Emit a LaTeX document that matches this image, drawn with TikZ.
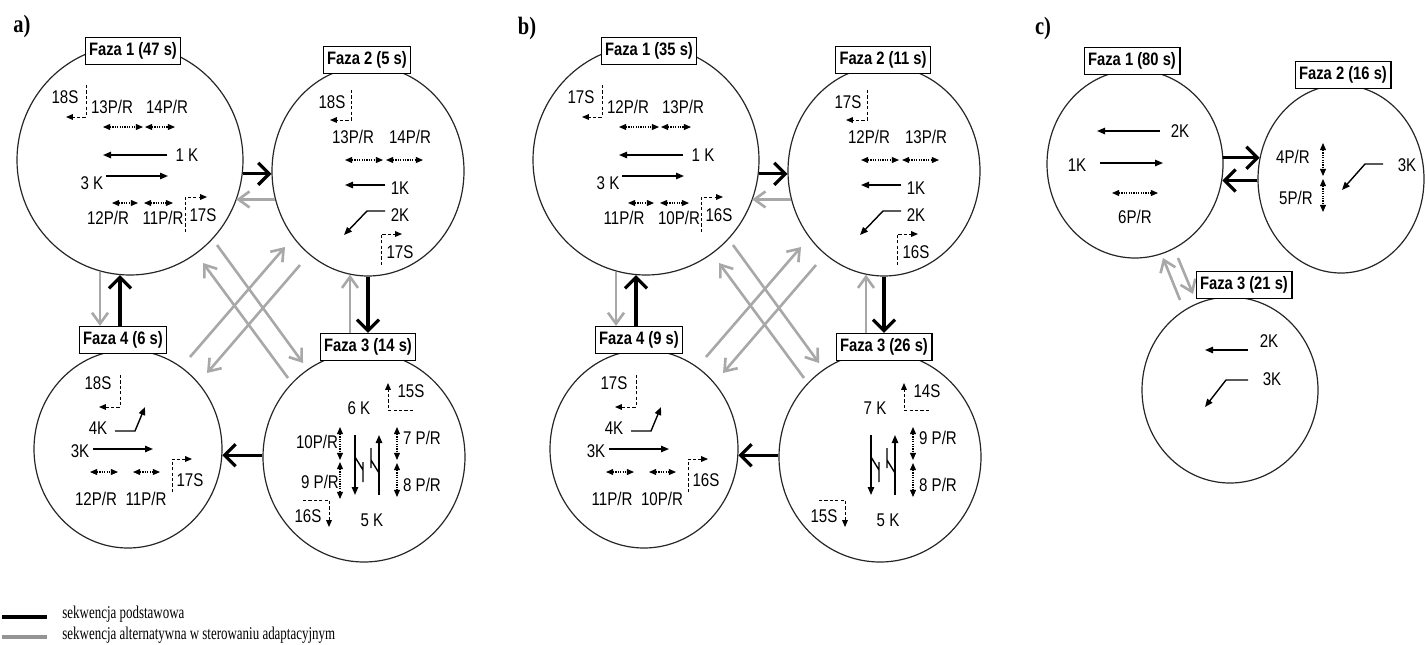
\documentclass[tikz,border=0pt]{standalone}
\usepackage{fontspec}
\setmainfont{Liberation Serif}[FakeStretch=0.82]
\newfontfamily\diagfont{Liberation Sans}[FakeStretch=0.82]
\newfontfamily\legfont{Liberation Serif}[FakeStretch=0.72]
\usetikzlibrary{arrows.meta,shapes.geometric}

\definecolor{altgray}{gray}{0.66}
\definecolor{leggray}{gray}{0.58}

\tikzset{
  phase/.style={draw=black!85, line width=0.6pt, ellipse, inner sep=0pt},
  phasetitle/.style={draw, fill=white, line width=0.6pt, inner xsep=2pt, inner ysep=0pt,
    minimum height=13.5pt, font=\diagfont\fontsize{9}{10}\selectfont\bfseries},
  lbl/.style={inner sep=0pt, font=\diagfont\fontsize{9.2}{10}\selectfont},
  panellbl/.style={inner sep=0pt, font=\fontsize{12.5}{13}\selectfont\bfseries},
  leglbl/.style={anchor=base west, inner sep=0pt, font=\legfont\fontsize{9}{10}\selectfont},
  veh/.style={line width=0.7pt, -{Triangle[length=4pt,width=3.2pt]}},
  ped/.style={line width=0.55pt, dash pattern=on 0.6pt off 0.6pt,
    {Triangle[length=3.6pt,width=3pt]}-{Triangle[length=3.6pt,width=3pt]}},
  sig/.style={line width=0.5pt, dash pattern=on 1.6pt off 1.1pt,
    -{Triangle[length=3.4pt,width=2.8pt]}},
  turn/.style={line width=0.7pt},
  mainseq/.style={line width=1.6pt, -{Straight Barb[length=5.5pt,width=11pt]}},
  altseq/.style={draw=altgray, line width=1.3pt, -{Straight Barb[length=5.5pt,width=8pt]}},
}

% four phases in a cycle: circles, titles and transitions
% #1..#4 titles of phases 1..4
\newcommand\PhaseCycle[4]{%
  \node[phase, minimum width=113pt, minimum height=115pt] (c1) at (130,160) {};
  \node[phase, minimum width=96pt, minimum height=105pt] (c2) at (368,171) {};
  \node[phase, minimum width=101pt, minimum height=105pt] (c3) at (364,457) {};
  \node[phase, minimum width=94pt, minimum height=99pt] (c4) at (128,449) {};
  % alternative transitions across the middle
  \coordinate (d1s) at (190,357); \coordinate (d1e) at (285,247);
  \coordinate (d2s) at (300,265); \coordinate (d2e) at (207,373);
  \coordinate (d3s) at (288,378); \coordinate (d3e) at (203,263);
  \coordinate (d4s) at (217,245); \coordinate (d4e) at (303,363);
  \draw[altseq] (d1s) -- (d1e);
  \draw[altseq] (d2s) -- (d2e);
  \draw[altseq] (d3s) -- (d3e);
  \draw[altseq] (d4s) -- (d4e);
  \node[phasetitle] (t1) at (133,51) {#1};
  \node[phasetitle] (t2) at (367,60) {#2};
  \node[phasetitle] (t3) at (368,347) {#3};
  \node[phasetitle] (t4) at (123,340) {#4};
  % basic sequence 1 -> 2 -> 3 -> 4 -> 1
  \draw[mainseq] (c1.353) -- (c1.353 -| c2.181);
  \draw[mainseq] (c2.south) -- (c2.south |- t3.north);
  \draw[mainseq] (c3.179) -- (c3.179 -| c4.356);
  \draw[mainseq] ([xshift=-1.5pt]t4.north) -- ([xshift=-1.5pt]t4.north |- c1.265);
  % reverse transitions
  \draw[altseq] (c2.197) -- (c2.197 -| c1.339);
  \draw[altseq] ([xshift=-9pt]t3.north) -- ([xshift=-9pt]t3.north |- c2.260);
  \draw[altseq] ([xshift=-11.5pt]t4.north |- c1.255) -- ([xshift=-11.5pt]t4.north);
}

% phase 1 streams: #1 top signal, #2 #3 upper crossings, #4 #5 vehicle streams,
% #6 #7 lower crossings, #8 lower signal
\newcommand\StreamsOne[8]{%
  \node[lbl] (q1) at (65,97) {#1};
  \draw[sig] (86,85) -- (86,117) -- (66,117);
  \node[lbl] (q2) at (112,107) {#2};
  \node[lbl] (q3) at (167,107) {#3};
  \draw[ped] (103,127) -- (143,127);
  \draw[ped] (145,127) -- (175,127);
  \draw[veh] (167,155) -- (103,155);
  \node[lbl] (q4) at (187,155) {#4};
  \node[lbl] (q5) at (92,183) {#5};
  \draw[veh] (106,176) -- (168,176);
  \draw[ped] (112,203) -- (138,203);
  \draw[ped] (144,203) -- (173,203);
  \node[lbl] (q6) at (108,218) {#6};
  \node[lbl] (q7) at (163,218) {#7};
  \draw[sig] (185,232) -- (185,197) -- (207,197);
  \node[lbl] (q8) at (203,215) {#8};
}

% phase 2 streams
\newcommand\StreamsTwo[6]{%
  \node[lbl] (r1) at (332,102) {#1};
  \draw[sig] (351,90) -- (351,120) -- (330,120);
  \node[lbl] (r2) at (353,137) {#2};
  \node[lbl] (r3) at (410,137) {#3};
  \draw[ped] (345,160) -- (383,160);
  \draw[ped] (386,160) -- (423,160);
  \draw[veh] (385,185) -- (345,185);
  \node[lbl] (r4) at (400,188) {#4};
  \draw[veh] (385,211) -- (367,211) -- (344,235);
  \node[lbl] (r5) at (400,215) {#5};
  \draw[sig] (381,265) -- (381,234) -- (402,234);
  \node[lbl] (r6) at (400,252) {#6};
}

% phase 3 streams
\newcommand\StreamsThree[6]{%
  \draw[sig] (413,410) -- (388,410) -- (388,383);
  \node[lbl] (w1) at (411,391) {#1};
  \node[lbl] (w2) at (359,408) {#2};
  \draw[veh] (355,435) -- (355,495);
  \draw[turn] (355,457) -- (363,470) (363,462) -- (363,482);
  \draw[veh] (379,495) -- (379,435);
  \draw[turn] (379,473) -- (371,460) (371,468) -- (371,448);
  \draw[ped] (397,427) -- (397,460);
  \draw[ped] (397,463) -- (397,497);
  \node[lbl] (w3) at (422,438) {#3};
  \node[lbl] (w4) at (422,485) {#4};
  \draw[sig] (303,500) -- (329,500) -- (329,527);
  \node[lbl] (w5) at (308,516) {#5};
  \node[lbl] (w6) at (372,520) {#6};
}

% phase 4 streams
\newcommand\StreamsFour[6]{%
  \node[lbl] (u1) at (98,383) {#1};
  \draw[sig] (120,375) -- (120,407) -- (99,407);
  \node[lbl] (u2) at (98,428) {#2};
  \draw[veh] (115,431) -- (135,431) -- (145,407);
  \node[lbl] (u3) at (80,451) {#3};
  \draw[veh] (93,449) -- (153,449);
  \draw[ped] (90,472) -- (118,472);
  \draw[ped] (133,472) -- (160,472);
  \node[lbl] (u4) at (96,499) {#4};
  \node[lbl] (u5) at (146,499) {#5};
  \draw[sig] (172,492) -- (172,459) -- (192,459);
  \node[lbl] (u6) at (190,480) {#6};
}

\begin{document}
\begin{tikzpicture}[x=0.5pt, y=-0.5pt]
\useasboundingbox (0,0) rectangle (1425,644);

% ---------- a) ----------
\node[panellbl] (pa) at (22,26) {a)};
\begin{scope}[name prefix=a-]
  \PhaseCycle{Faza 1 (47 s)}{Faza 2 (5 s)}{Faza 3 (14 s)}{Faza 4 (6 s)}
  \StreamsOne{18S}{13P/R}{14P/R}{1 K}{3 K}{12P/R}{11P/R}{17S}
  \StreamsTwo{18S}{13P/R}{14P/R}{1K}{2K}{17S}
  \StreamsThree{15S}{6 K}{7 P/R}{8 P/R}{16S}{5 K}
  \draw[ped] (340,427) -- (340,460);
  \draw[ped] (340,462) -- (340,499);
  \node[lbl] (w7) at (317,442) {10P/R};
  \node[lbl] (w8) at (320,482) {9 P/R};
  \StreamsFour{18S}{4K}{3K}{12P/R}{11P/R}{17S}
\end{scope}

% ---------- b) ----------
\node[panellbl] (pb) at (527,28) {b)};
\begin{scope}[shift={(516,0)}, name prefix=b-]
  \PhaseCycle{Faza 1 (35 s)}{Faza 2 (11 s)}{Faza 3 (26 s)}{Faza 4 (9 s)}
  \StreamsOne{17S}{12P/R}{13P/R}{1 K}{3 K}{11P/R}{10P/R}{16S}
  \StreamsTwo{17S}{12P/R}{13P/R}{1K}{2K}{16S}
  \StreamsThree{14S}{7 K}{9 P/R}{8 P/R}{15S}{5 K}
  \StreamsFour{17S}{4K}{3K}{11P/R}{10P/R}{16S}
\end{scope}

% ---------- c) ----------
\node[panellbl] (pc) at (1043,28) {c)};
\begin{scope}[name prefix=c-]
  \node[phase, minimum width=88pt, minimum height=94pt] (c1) at (1135,164) {};
  \node[phase, minimum width=83pt, minimum height=94pt] (c2) at (1341,179) {};
  \node[phase, minimum width=88pt, minimum height=93pt] (c3) at (1230,390) {};
  \coordinate (e1s) at (1180,300); \coordinate (e1e) at (1163,258);
  \coordinate (e2s) at (1178,258); \coordinate (e2e) at (1193,294);
  \draw[altseq] (e1s) -- (e1e);
  \draw[altseq] (e2s) -- (e2e);
  \node[phasetitle] (t1) at (1132,61) {Faza 1 (80 s)};
  \node[phasetitle] (t2) at (1343,75) {Faza 2 (16 s)};
  \node[phasetitle] (t3) at (1244,285) {Faza 3 (21 s)};
  \draw[mainseq] (c1.4) -- (c1.4 -| c2.165);
  \draw[mainseq] (c2.181) -- (c2.181 -| c1.350);
  % phase 1
  \draw[veh] (1160,131) -- (1097,131);
  \node[lbl] (k2) at (1180,131) {2K};
  \node[lbl] (k1) at (1077,165) {1K};
  \draw[veh] (1100,163) -- (1163,163);
  \draw[ped] (1112,193) -- (1158,193);
  \node[lbl] (p6) at (1135,217) {6P/R};
  % phase 2
  \node[lbl] (p4) at (1293,157) {4P/R};
  \draw[ped] (1323,143) -- (1323,176);
  \draw[ped] (1323,179) -- (1323,212);
  \node[lbl] (p5) at (1296,198) {5P/R};
  \draw[veh] (1383,164) -- (1365,164) -- (1342,190);
  \node[lbl] (k3) at (1407,165) {3K};
  % phase 3
  \node[lbl] (k2b) at (1269,341) {2K};
  \draw[veh] (1248,350) -- (1205,350);
  \node[lbl] (k3b) at (1272,379) {3K};
  \draw[veh] (1248,380) -- (1226,380) -- (1205,407);
\end{scope}

% ---------- legend ----------
\draw[line width=2pt] (2,617) -- (47,617);
\node[leglbl] (leg1) at (62,618) {sekwencja podstawowa};
\draw[leggray, line width=2pt] (2,637) -- (47,637);
\node[leglbl] (leg2) at (62,639) {sekwencja alternatywna w sterowaniu adaptacyjnym};
\end{tikzpicture}
\end{document}
